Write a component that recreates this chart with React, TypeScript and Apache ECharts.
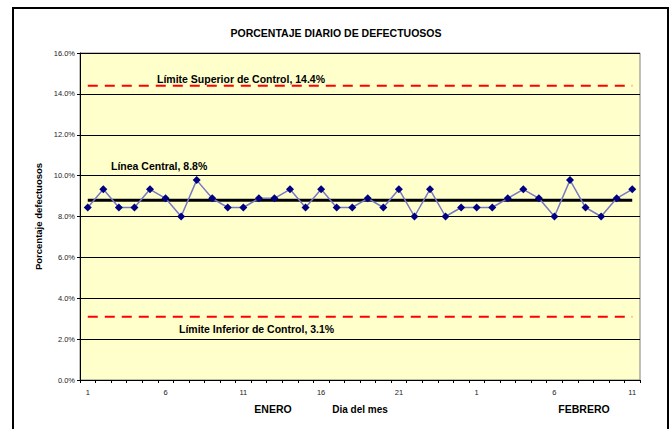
import React, { useEffect, useRef } from 'react';
import * as echarts from 'echarts';

// Day of month: 25 days of January followed by 11 days of February
const days = [
  '1', '2', '3', '4', '5', '6', '7', '8', '9', '10', '11', '12', '13',
  '14', '15', '16', '17', '18', '19', '20', '21', '22', '23', '24', '25',
  '1', '2', '3', '4', '5', '6', '7', '8', '9', '10', '11',
];

// Daily percentage of defectives (%)
const defectPct = [
  8.44, 9.33, 8.44, 8.44, 9.33, 8.89, 8.0, 9.78, 8.89, 8.44, 8.44, 8.89,
  8.89, 9.33, 8.44, 9.33, 8.44, 8.44, 8.89, 8.44, 9.33, 8.0, 9.33, 8.0,
  8.44, 8.44, 8.44, 8.89, 9.33, 8.89, 8.0, 9.78, 8.44, 8.0, 8.89, 9.33,
];

const centerLine = 8.8;
const upperLimit = 14.4;
const lowerLimit = 3.1;

const yTicks = { min: 0, max: 16, interval: 2 };

const FONT = 'Arial, "Liberation Sans", sans-serif';

export default function App() {
  const ref = useRef<HTMLDivElement>(null);

  useEffect(() => {
    if (!ref.current) return;
    const chart = echarts.init(ref.current, null, { renderer: 'svg' });
    const constant = (v: number) => days.map(() => v);
    chart.setOption({
      animation: false,
      backgroundColor: '#ffffff',
      title: {
        text: 'PORCENTAJE DIARIO DE DEFECTUOSOS',
        left: 'center',
        top: 22,
        textStyle: { fontFamily: FONT, fontSize: 10.5, fontWeight: 'bold', color: '#000' },
      },
      grid: {
        left: 80,
        right: 32,
        top: 53,
        bottom: 49,
        show: true,
        backgroundColor: '#FFFFCC',
        borderColor: '#808080',
        borderWidth: 1,
      },
      xAxis: {
        type: 'category',
        data: days,
        boundaryGap: true,
        name: 'Dia del mes',
        nameLocation: 'middle',
        nameGap: 24,
        nameMoveOverlap: false,
        nameTextStyle: { fontFamily: FONT, fontSize: 10, fontWeight: 'bold', color: '#000' },
        axisLine: { lineStyle: { color: '#000', width: 1 } },
        axisTick: { show: true, interval: 0, length: 3, lineStyle: { color: '#000' } },
        axisLabel: { interval: 4, fontFamily: FONT, fontSize: 7.5, color: '#222', margin: 8 },
        splitLine: { show: false },
      },
      yAxis: {
        type: 'value',
        min: yTicks.min,
        max: yTicks.max,
        interval: yTicks.interval,
        name: 'Porcentaje defectuosos',
        nameLocation: 'middle',
        nameGap: 37,
        nameMoveOverlap: false,
        nameTextStyle: { fontFamily: FONT, fontSize: 9.5, fontWeight: 'bold', color: '#000' },
        axisLine: { show: true, lineStyle: { color: '#000', width: 1 } },
        axisTick: { show: true, length: 3, lineStyle: { color: '#000' } },
        axisLabel: {
          fontFamily: FONT,
          fontSize: 7.5,
          color: '#222',
          margin: 5,
          formatter: (v: number) => v.toFixed(1) + '%',
        },
        splitLine: { show: true, lineStyle: { color: '#000', width: 1 } },
      },
      series: [
        {
          name: 'LSC',
          type: 'line',
          data: constant(upperLimit),
          symbol: 'none',
          lineStyle: { color: '#FF0000', width: 2, type: [10, 7] },
          z: 3,
        },
        {
          name: 'LIC',
          type: 'line',
          data: constant(lowerLimit),
          symbol: 'none',
          lineStyle: { color: '#FF0000', width: 2, type: [10, 7] },
          z: 3,
        },
        {
          name: 'LC',
          type: 'line',
          data: constant(centerLine),
          symbol: 'none',
          lineStyle: { color: '#000000', width: 3 },
          z: 3,
        },
        {
          name: 'Defectuosos',
          type: 'line',
          data: defectPct,
          symbol: 'diamond',
          symbolSize: 8,
          itemStyle: { color: '#000080' },
          lineStyle: { color: '#7878C4', width: 1.5 },
          z: 4,
        },
      ],
      graphic: [
        {
          type: 'rect',
          shape: { x: 13, y: 8, width: 655, height: 440 },
          style: { fill: 'none', stroke: '#000', lineWidth: 2 },
          silent: true,
        },
        {
          type: 'text',
          x: 157,
          y: 79,
          style: {
            text: 'Límite Superior de Control, 14.4%',
            font: `bold 10.5px ${FONT}`,
            fill: '#000',
            textVerticalAlign: 'middle',
          },
        },
        {
          type: 'text',
          x: 111,
          y: 166,
          style: {
            text: 'Línea Central, 8.8%',
            font: `bold 10.5px ${FONT}`,
            fill: '#000',
            textVerticalAlign: 'middle',
          },
        },
        {
          type: 'text',
          x: 179,
          y: 329,
          style: {
            text: 'Límite Inferior de Control, 3.1%',
            font: `bold 10.5px ${FONT}`,
            fill: '#000',
            textVerticalAlign: 'middle',
          },
        },
        {
          type: 'text',
          x: 273,
          y: 409,
          style: {
            text: 'ENERO',
            font: `bold 10.5px ${FONT}`,
            fill: '#000',
            textAlign: 'center',
            textVerticalAlign: 'middle',
          },
        },
        {
          type: 'text',
          x: 584,
          y: 409,
          style: {
            text: 'FEBRERO',
            font: `bold 10.5px ${FONT}`,
            fill: '#000',
            textAlign: 'center',
            textVerticalAlign: 'middle',
          },
        },
      ],
    });
    return () => chart.dispose();
  }, []);

  return (
    <div
      ref={ref}
      style={{ position: 'fixed', left: 0, top: 0, width: 672, height: 429 }}
    />
  );
}
